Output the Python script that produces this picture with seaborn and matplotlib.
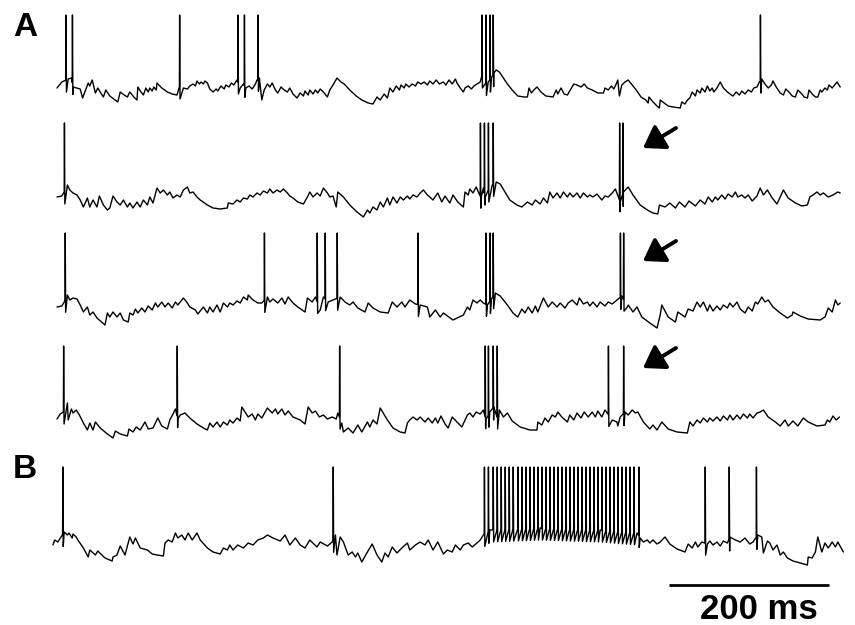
import numpy as np
import pandas as pd
import seaborn as sns
import matplotlib
matplotlib.use('Agg')
import matplotlib.pyplot as plt
from matplotlib.patches import FancyArrowPatch

# membrane potential traces: (time in ms, Vm in mV)
a1_points = [(0, -60), (6, -54), (14, -51), (18, -50), (20, -59), (29, -61), (32, -70), (39, -55), (41, -58),
             (44, -52), (48, -65), (51, -60), (54, -64), (58, -69), (61, -62), (66, -68), (76, -74), (79, -64),
             (84, -67), (88, -69), (91, -64), (96, -69), (100, -72), (101, -59), (105, -64), (108, -67),
             (111, -60), (114, -64), (116, -60), (119, -63), (121, -59), (124, -62), (125, -55), (131, -60),
             (138, -64), (144, -66), (150, -67), (153, -59), (158, -60), (163, -61), (166, -58), (170, -56),
             (173, -58), (175, -53), (178, -56), (180, -54), (183, -56), (185, -53), (188, -55), (191, -61),
             (195, -64), (199, -61), (201, -63), (205, -58), (209, -61), (211, -57), (215, -59), (218, -55),
             (221, -57), (225, -52), (229, -60), (233, -56), (236, -60), (240, -58), (244, -61), (248, -56),
             (250, -52), (253, -50), (256, -72), (259, -62), (263, -56), (266, -59), (269, -55), (273, -62),
             (276, -65), (280, -59), (284, -62), (288, -64), (291, -60), (295, -66), (300, -70), (304, -65),
             (308, -68), (310, -63), (314, -67), (316, -62), (320, -66), (323, -62), (326, -65), (329, -61),
             (333, -64), (338, -69), (341, -62), (345, -57), (350, -50), (355, -54), (359, -56), (366, -62),
             (374, -68), (381, -72), (389, -75), (395, -76), (400, -69), (404, -72), (409, -66), (413, -70),
             (416, -60), (420, -64), (424, -58), (428, -62), (430, -57), (434, -60), (436, -56), (440, -59),
             (444, -56), (448, -58), (451, -54), (455, -56), (459, -54), (463, -57), (466, -53), (470, -56),
             (474, -52), (478, -56), (483, -54), (486, -57), (490, -52), (494, -56), (498, -51), (500, -55),
             (504, -60), (508, -64), (510, -60), (514, -58), (518, -61), (521, -58), (525, -56), (529, -54),
             (531, -48), (535, -56), (539, -54), (543, -50), (546, -45), (549, -42), (553, -44), (558, -50),
             (563, -56), (569, -62), (576, -68), (584, -69), (588, -69), (590, -60), (593, -65), (596, -62),
             (600, -59), (605, -64), (611, -68), (620, -69), (624, -62), (626, -66), (630, -60), (634, -66),
             (638, -67), (646, -56), (650, -57), (655, -59), (659, -56), (663, -60), (669, -62), (676, -65),
             (683, -65), (685, -60), (689, -62), (693, -58), (696, -61), (699, -56), (701, -52), (703, -68),
             (706, -57), (710, -54), (714, -52), (718, -56), (724, -62), (730, -69), (736, -72), (739, -75),
             (740, -69), (745, -74), (750, -78), (753, -80), (754, -72), (759, -75), (764, -78), (770, -79),
             (779, -80), (781, -74), (785, -76), (788, -72), (791, -70), (794, -64), (798, -68), (800, -62),
             (804, -65), (806, -60), (810, -64), (813, -58), (816, -63), (819, -60), (821, -64), (825, -60),
             (829, -54), (833, -60), (838, -64), (843, -67), (845, -68), (849, -64), (853, -67), (856, -63),
             (860, -66), (864, -62), (868, -64), (871, -60), (875, -59), (878, -54), (881, -51), (885, -56),
             (889, -60), (893, -57), (895, -53), (899, -59), (904, -65), (908, -67), (911, -61), (915, -64),
             (919, -68), (923, -69), (926, -62), (930, -65), (934, -69), (938, -70), (940, -62), (944, -66),
             (948, -69), (951, -69), (954, -62), (956, -64), (960, -60), (963, -62), (965, -57), (969, -60),
             (973, -56), (975, -54), (979, -59)]
a1_spikes = [11, 19, 153, 226, 234, 251, 531, 536, 541, 545, 879]

a2_points = [(0, -60), (6, -59), (9, -55), (13, -48), (16, -53), (20, -56), (25, -58), (29, -63), (33, -70),
             (38, -61), (41, -70), (45, -63), (50, -70), (53, -59), (58, -68), (63, -73), (66, -71), (70, -59),
             (75, -65), (79, -68), (83, -63), (88, -70), (91, -66), (95, -71), (100, -65), (104, -70),
             (108, -63), (113, -68), (116, -60), (120, -66), (125, -51), (129, -56), (133, -53), (138, -58),
             (141, -55), (145, -61), (150, -58), (154, -60), (158, -53), (163, -50), (166, -56), (170, -55),
             (175, -60), (179, -63), (188, -68), (195, -71), (204, -72), (213, -71), (214, -66), (220, -67),
             (225, -63), (229, -65), (233, -61), (238, -62), (241, -58), (245, -60), (250, -56), (254, -58),
             (258, -54), (263, -56), (266, -52), (270, -56), (275, -53), (279, -55), (283, -52), (288, -56),
             (291, -59), (295, -61), (301, -65), (308, -67), (313, -60), (316, -55), (320, -60), (325, -56),
             (329, -59), (333, -51), (338, -56), (341, -60), (345, -59), (349, -70), (351, -55), (358, -60),
             (366, -68), (375, -75), (383, -80), (388, -73), (391, -76), (395, -70), (400, -73), (404, -65),
             (408, -70), (413, -61), (416, -68), (420, -60), (425, -66), (429, -60), (433, -63), (438, -59),
             (441, -62), (445, -58), (450, -60), (454, -56), (458, -53), (463, -58), (466, -60), (470, -63),
             (476, -56), (481, -65), (485, -59), (491, -66), (495, -58), (501, -65), (508, -70), (510, -55),
             (514, -58), (516, -52), (520, -56), (524, -50), (530, -61), (533, -51), (535, -61), (539, -53),
             (544, -48), (549, -45), (554, -47), (560, -55), (566, -63), (575, -68), (581, -70), (588, -65),
             (594, -68), (598, -63), (604, -67), (608, -61), (613, -66), (616, -55), (620, -61), (625, -56),
             (629, -61), (633, -55), (638, -60), (641, -56), (645, -60), (650, -56), (654, -61), (658, -56),
             (663, -60), (666, -58), (670, -60), (675, -57), (681, -63), (685, -59), (689, -60), (694, -56),
             (698, -52), (704, -65), (708, -55), (714, -50), (720, -58), (729, -68), (738, -73), (745, -76),
             (751, -77), (753, -68), (760, -70), (766, -66), (773, -71), (778, -65), (785, -70), (790, -64),
             (798, -69), (804, -63), (810, -67), (814, -60), (819, -65), (823, -60), (826, -63), (831, -58),
             (835, -62), (839, -57), (844, -60), (848, -55), (851, -60), (856, -58), (860, -61), (864, -58),
             (869, -64), (875, -59), (879, -51), (883, -58), (888, -53), (894, -61), (900, -67), (904, -60),
             (908, -53), (914, -61), (923, -66), (931, -69), (938, -68), (941, -60), (945, -58), (950, -55),
             (954, -58), (958, -56), (964, -60), (970, -58), (976, -55), (979, -56)]
a2_spikes = [9, 529, 534, 539, 545, 703, 707]

a3_points = [(0, -60), (6, -59), (9, -55), (13, -48), (16, -53), (20, -51), (25, -52), (29, -58), (33, -65),
             (38, -60), (41, -68), (45, -65), (50, -71), (60, -78), (63, -66), (66, -70), (70, -65), (75, -70),
             (79, -66), (83, -73), (89, -75), (91, -66), (95, -68), (98, -62), (101, -66), (106, -61),
             (110, -65), (114, -59), (119, -63), (123, -56), (126, -60), (131, -55), (135, -60), (139, -56),
             (144, -61), (148, -55), (151, -58), (158, -51), (163, -56), (166, -60), (173, -63), (176, -67),
             (183, -60), (188, -66), (191, -60), (195, -65), (200, -58), (204, -65), (208, -56), (213, -60),
             (216, -56), (220, -58), (225, -54), (229, -56), (233, -50), (238, -53), (239, -48), (245, -53),
             (251, -56), (256, -56), (263, -50), (266, -55), (270, -52), (276, -56), (281, -51), (285, -57),
             (289, -50), (295, -56), (301, -60), (310, -65), (313, -51), (319, -55), (323, -50), (329, -63),
             (333, -50), (339, -55), (345, -53), (354, -50), (360, -55), (366, -58), (370, -55), (376, -61),
             (385, -65), (389, -56), (395, -61), (404, -65), (414, -66), (419, -55), (425, -60), (431, -55),
             (435, -60), (441, -53), (448, -57), (454, -58), (463, -60), (466, -70), (473, -63), (479, -70),
             (483, -66), (495, -73), (508, -68), (513, -60), (516, -63), (520, -53), (525, -56), (529, -53),
             (533, -56), (538, -58), (543, -52), (548, -46), (554, -49), (563, -58), (570, -66), (576, -70),
             (581, -62), (585, -66), (589, -60), (594, -66), (598, -59), (601, -65), (608, -51), (614, -60),
             (619, -55), (625, -60), (629, -56), (635, -61), (639, -56), (644, -53), (650, -58), (653, -51),
             (658, -57), (663, -55), (666, -59), (670, -55), (675, -60), (679, -55), (685, -59), (689, -55),
             (694, -57), (700, -53), (706, -49), (713, -60), (714, -58), (720, -65), (725, -60), (731, -70),
             (741, -76), (750, -81), (754, -68), (756, -58), (764, -70), (773, -75), (776, -65), (785, -70),
             (789, -62), (795, -64), (800, -55), (804, -60), (808, -55), (813, -64), (816, -58), (820, -64),
             (825, -59), (829, -63), (833, -58), (838, -61), (841, -56), (845, -60), (850, -55), (854, -62),
             (860, -66), (864, -60), (869, -64), (873, -55), (876, -57), (881, -50), (885, -55), (889, -53),
             (895, -60), (904, -66), (913, -71), (919, -68), (920, -65), (929, -69), (939, -72), (954, -73),
             (960, -70), (964, -61), (969, -65), (973, -53), (976, -58), (979, -56)]
a3_spikes = [10, 259, 325, 335, 350, 451, 536, 541, 545, 704, 708]

a4_points = [(0, -60), (4, -55), (8, -53), (13, -44), (14, -61), (18, -50), (20, -54), (24, -51), (28, -56),
             (33, -64), (38, -71), (41, -64), (45, -71), (48, -63), (54, -69), (63, -75), (70, -79), (73, -72),
             (79, -75), (88, -77), (90, -70), (95, -73), (99, -68), (104, -71), (110, -63), (114, -70),
             (120, -69), (126, -59), (131, -67), (138, -70), (141, -61), (145, -55), (148, -50), (151, -60),
             (154, -56), (160, -54), (166, -59), (175, -65), (183, -69), (188, -71), (191, -64), (195, -68),
             (200, -63), (204, -68), (208, -63), (213, -66), (216, -61), (220, -64), (225, -59), (229, -62),
             (231, -48), (235, -53), (239, -58), (244, -55), (248, -61), (251, -55), (256, -59), (263, -49),
             (269, -54), (273, -50), (276, -55), (281, -50), (285, -56), (289, -52), (295, -58), (304, -61),
             (310, -65), (314, -48), (319, -54), (323, -52), (328, -58), (333, -56), (338, -60), (344, -58),
             (349, -60), (351, -54), (356, -64), (358, -73), (364, -69), (370, -74), (376, -66), (381, -73),
             (388, -63), (391, -68), (395, -61), (400, -65), (404, -49), (413, -61), (420, -69), (429, -73),
             (435, -74), (438, -64), (441, -61), (445, -58), (450, -61), (454, -58), (460, -63), (464, -59),
             (469, -64), (473, -59), (476, -64), (480, -57), (485, -65), (489, -69), (494, -58), (500, -63),
             (506, -68), (510, -61), (513, -56), (516, -54), (520, -58), (524, -53), (529, -55), (533, -51),
             (536, -61), (541, -53), (546, -48), (550, -58), (553, -51), (558, -58), (563, -54), (569, -62),
             (579, -68), (591, -71), (600, -71), (601, -63), (606, -66), (610, -59), (614, -63), (619, -56),
             (623, -58), (626, -53), (631, -58), (638, -63), (641, -56), (646, -61), (650, -54), (655, -59),
             (659, -53), (664, -58), (669, -53), (673, -58), (676, -52), (681, -58), (685, -51), (694, -61),
             (700, -63), (701, -67), (704, -58), (710, -53), (714, -56), (719, -51), (723, -54), (726, -53),
             (733, -63), (741, -70), (745, -66), (750, -71), (756, -63), (764, -70), (775, -73), (788, -74),
             (791, -63), (795, -67), (800, -61), (804, -64), (808, -59), (813, -63), (816, -59), (820, -62),
             (825, -58), (829, -62), (833, -57), (838, -61), (841, -56), (845, -61), (850, -56), (854, -60),
             (858, -55), (863, -59), (866, -55), (870, -59), (875, -54), (879, -53), (883, -51), (889, -58),
             (898, -63), (904, -67), (910, -61), (914, -67), (920, -62), (926, -67), (933, -59), (939, -63),
             (950, -67), (960, -66), (963, -61), (966, -63), (970, -57), (974, -61), (978, -58)]
a4_spikes = [8, 150, 353, 535, 539, 545, 550, 689, 708]

b_points = [(-5, -60), (-3, -55), (1, -57), (5, -52), (9, -47), (13, -50), (15, -48), (19, -53), (20, -49),
            (24, -52), (26, -55), (33, -63), (39, -72), (41, -65), (48, -70), (51, -66), (60, -73), (69, -76),
            (70, -72), (75, -70), (79, -61), (85, -70), (91, -52), (95, -59), (98, -53), (104, -63),
            (113, -65), (119, -69), (125, -70), (133, -71), (135, -58), (139, -55), (144, -57), (148, -48),
            (151, -53), (156, -50), (160, -55), (164, -48), (169, -55), (175, -48), (179, -55), (188, -63),
            (195, -67), (204, -69), (208, -63), (213, -65), (216, -60), (220, -65), (226, -60), (233, -63),
            (239, -58), (245, -60), (251, -55), (258, -53), (263, -50), (270, -53), (279, -56), (285, -50),
            (291, -60), (298, -53), (304, -60), (310, -63), (316, -55), (325, -62), (329, -57), (338, -61),
            (344, -57), (348, -50), (350, -70), (354, -52), (358, -57), (364, -70), (369, -67), (373, -72),
            (376, -68), (381, -77), (388, -67), (394, -59), (400, -70), (406, -77), (410, -68), (414, -72),
            (419, -62), (425, -68), (431, -63), (438, -58), (441, -65), (448, -60), (454, -57), (460, -60),
            (464, -55), (470, -65), (476, -57), (483, -69), (488, -65), (494, -67), (498, -60), (504, -65),
            (508, -60), (514, -58), (519, -62), (525, -58), (529, -55), (533, -50), (541, -45), (604, -43),
            (679, -45), (725, -48), (729, -53), (733, -57), (738, -55), (741, -58), (745, -55), (750, -59),
            (754, -57), (760, -52), (766, -59), (775, -64), (785, -67), (789, -59), (794, -63), (798, -57),
            (801, -62), (806, -57), (813, -59), (816, -56), (820, -60), (825, -57), (829, -61), (833, -56),
            (838, -58), (841, -52), (848, -55), (854, -57), (860, -53), (866, -59), (870, -57), (876, -50),
            (881, -52), (883, -68), (888, -56), (891, -58), (895, -65), (900, -60), (904, -70), (908, -67),
            (913, -73), (920, -76), (929, -78), (938, -80), (939, -72), (944, -73), (948, -67), (951, -52),
            (956, -67), (960, -58), (964, -63), (969, -57), (973, -62), (976, -57), (983, -67)]
b_spikes = [7, 345, 534, 539, 545, 550, 555, 560, 565, 570, 576, 581, 586, 591, 596, 601, 606, 611, 616,
            621, 626, 631, 636, 641, 646, 651, 656, 661, 666, 671, 676, 681, 686, 691, 696, 701, 706, 711,
            716, 721, 727, 810, 840, 874]

trace_names = ['A1', 'A2', 'A3', 'A4', 'B']
spike_peaks = [13, 14, 14, 13, 18]  # mV, overshoot of each trace
scale_bar_ms = 200


def build_trace(points, spikes, peak):
    df = pd.DataFrame(points, columns=['t', 'v'])
    rows = []
    for ts in spikes:
        vb = np.interp(ts, df['t'], df['v'])
        rows += [(ts, vb), (ts + 0.3, peak), (ts + 0.8, vb - 12)]
    df = pd.concat([df, pd.DataFrame(rows, columns=['t', 'v'])], ignore_index=True)
    return df.sort_values('t', kind='stable').reset_index(drop=True)


sns.set_style('white')
plt.rcParams['font.family'] = ['Liberation Sans', 'DejaVu Sans']

W, H = 855, 625
fig = plt.figure(figsize=(W / 100, H / 100), dpi=100)

traces = [(a1_points, a1_spikes), (a2_points, a2_spikes), (a3_points, a3_spikes),
          (a4_points, a4_spikes), (b_points, b_spikes)]
# pixel row of -60 mV for each trace
rest_px = [88, 197, 307, 419, 545]
ylo, yhi = -88, 20
xlo, xhi = -6, 984
px_per_ms = 0.8
left_px = 57 + xlo * px_per_ms
width_px = (xhi - xlo) * px_per_ms

axes = []
for (pts, spk), peak, rp in zip(traces, spike_peaks, rest_px):
    top_px = rp - (yhi + 60)
    ax = fig.add_axes([left_px / W, 1 - (top_px + (yhi - ylo)) / H, width_px / W, (yhi - ylo) / H])
    ax.patch.set_alpha(0)
    df = build_trace(pts, spk, peak)
    sns.lineplot(data=df, x='t', y='v', ax=ax, color='black', linewidth=1.0,
                 estimator=None, sort=False)
    ax.set_xlim(xlo, xhi)
    ax.set_ylim(ylo, yhi)
    ax.set_axis_off()
    axes.append(ax)

# scale bar under trace B
axb = axes[-1]
axb.plot([765, 765 + scale_bar_ms], [-100, -100], color='black', lw=2, clip_on=False,
         solid_capstyle='butt')
axb.text(765 + scale_bar_ms / 2 + 12, -108, f'{scale_bar_ms} ms', ha='center', va='top', color='black',
         fontsize=25, fontweight='bold', clip_on=False)

# panel letters
fig.text(25 / W, 1 - 27 / H, 'A', ha='center', va='center', fontsize=24, fontweight='bold', color='black')
fig.text(25 / W, 1 - 470 / H, 'B', ha='center', va='center', fontsize=24, fontweight='bold', color='black')

# arrows marking the late doublets
for tip_y in [148, 261, 368]:
    fig.patches.append(FancyArrowPatch(
        (676, H - (tip_y - 20)), (643, H - tip_y), transform=None,
        arrowstyle='-|>,head_length=0.9,head_width=0.6', mutation_scale=14,
        shrinkA=0, shrinkB=0, lw=2.8, color='black'))

fig.savefig('out.png', dpi=100)
